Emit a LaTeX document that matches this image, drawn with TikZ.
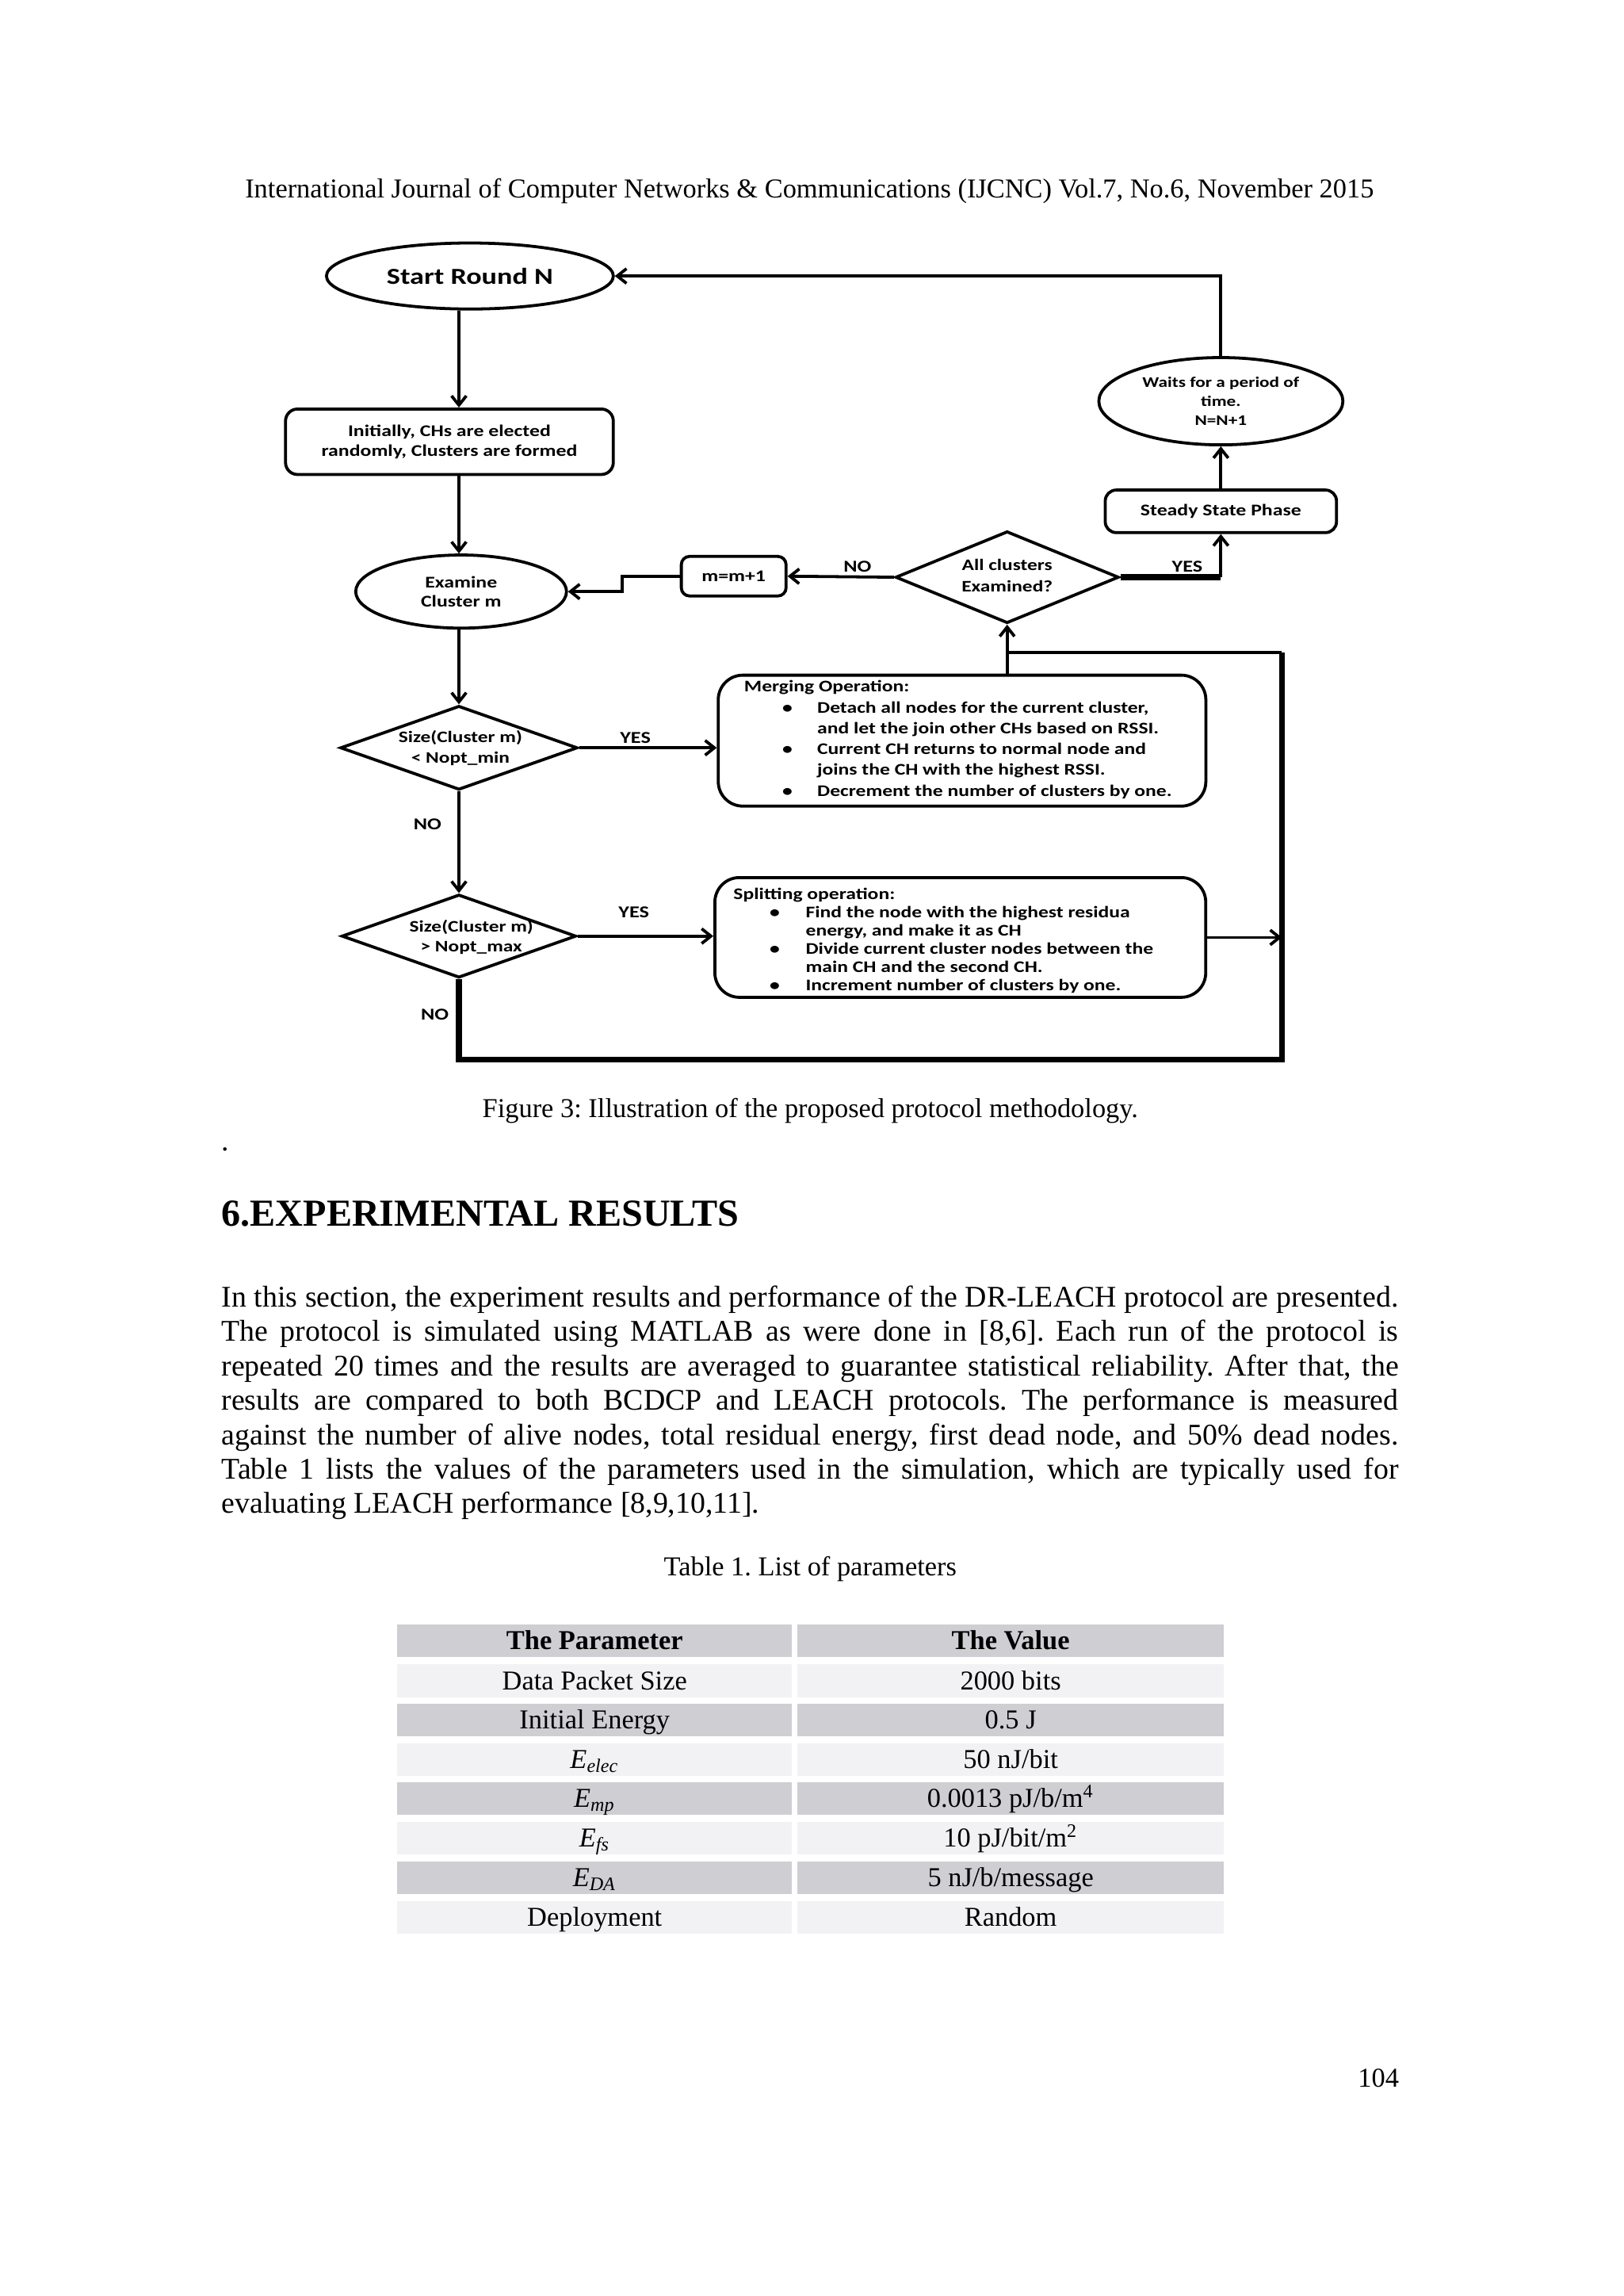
\documentclass[tikz,border=0pt]{standalone}
\usepackage{fontspec}
\setmainfont{Liberation Serif}
\newfontfamily\fc{Carlito}[FakeStretch=1.25]
\usetikzlibrary{arrows.meta,shapes.geometric}
\definecolor{tabD}{RGB}{207,206,211}
\definecolor{tabL}{RGB}{242,242,244}
\frenchspacing
\begin{document}
\begin{tikzpicture}[x=0.5368pt,y=-0.5368pt,
  ln/.style={line width=1.1pt},
  thk/.style={line width=2.1pt},
  arr/.style={-{Straight Barb[length=3.4pt,width=5.4pt]}},
  fbox/.style={draw, line width=1.1pt, inner sep=0pt, align=center,
    font=\fc\bfseries\fontsize{6}{7.25}\selectfont},
  fell/.style={ellipse, draw, line width=1.1pt, inner sep=0pt, align=center},
  dia/.style={diamond, draw, line width=1.1pt, inner sep=0pt},
  ftxt/.style={inner sep=0pt, align=center, font=\fc\bfseries\fontsize{5.9}{7.5}\selectfont},
  lab/.style={inner sep=0pt, font=\fc\bfseries\fontsize{6.1}{7}\selectfont},
  listtxt/.style={anchor=base west, inner sep=0pt},
  body/.style={inner sep=0pt, font=\fontsize{11}{12.6}\selectfont},
  small/.style={inner sep=0pt, font=\fontsize{10}{12}\selectfont},
  cellL/.style={inner sep=0pt, minimum width=144.7pt, minimum height=12.0pt, text height=8.2pt, text depth=1.8pt, font=\fontsize{10}{12}\selectfont},
  cellR/.style={inner sep=0pt, minimum width=156.3pt, minimum height=12.0pt, text height=8.2pt, text depth=1.8pt, font=\fontsize{10}{12}\selectfont}
]
\fill[white] (0,0) rectangle (1109,1568);
\useasboundingbox (0,0) rectangle (1109,1568);

% ---------- header ----------
\node[small, anchor=base] (hdr) at (553,135) {International Journal of Computer Networks \& Communications (IJCNC) Vol.7, No.6, November 2015};

% ---------- flowchart nodes ----------
\coordinate (vx) at (313.5,0);
\node[fell, minimum width=105.2pt, minimum height=24.2pt, font=\fc\bfseries\fontsize{8.4}{10}\selectfont] (start) at (321,188.5) {Start Round N};
\node[fbox, rounded corners=4.4pt, minimum width=120.2pt, minimum height=24pt] (init) at (307,301.7) {Initially, CHs are elected\\randomly, Clusters are formed};
\node[fell, minimum width=77.3pt, minimum height=26.8pt, font=\fc\bfseries\fontsize{6}{7.1}\selectfont] (exam) at (315,404) {Examine\\Cluster m};
\node[dia, minimum width=87pt, minimum height=30.8pt] (d1) at (313.5,510.7) {};
\node[ftxt] (d1t) at (314.5,511) {Size(Cluster m)\\< Nopt\_min};
\node[dia, minimum width=86pt, minimum height=30.5pt] (d2) at (313.5,639.3) {};
\node[ftxt] (d2t) at (322,640) {Size(Cluster m)\\> Nopt\_max};
\node[dia, minimum width=81.9pt, minimum height=33.7pt] (d3) at (688,394.2) {};
\node[ftxt, font=\fc\bfseries\fontsize{5.9}{8}\selectfont] (d3t) at (688,393) {All clusters\\Examined?};
\node[fbox, rounded corners=3pt, minimum width=38.4pt, minimum height=14.5pt] (m) at (501.2,393.5) {m=m+1};
\node[fbox, rounded corners=4pt, minimum width=84.8pt, minimum height=15.6pt] (steady) at (834,349.2) {Steady State Phase};
\node[fell, minimum width=89.5pt, minimum height=32pt, font=\fc\bfseries\fontsize{5.4}{6.9}\selectfont] (wait) at (834,274) {Waits for a period of\\time.\\N=N+1};
\node[fbox, rounded corners=9pt, minimum width=178.8pt, minimum height=48pt] (merge) at (657.2,505.8) {};
\node[fbox, rounded corners=9pt, minimum width=180pt, minimum height=43.9pt] (split) at (656,640.2) {};

\node[listtxt, font=\fc\bfseries\fontsize{5.95}{7.65}\selectfont] (mt) at (508,472.5) {\begin{tabular}[t]{@{}l@{}}
Merging Operation:\\
\hspace*{14pt}\makebox[12.8pt][l]{\textbullet}Detach all nodes for the current cluster,\\
\hspace*{26.8pt}and let the join other CHs based on RSSI.\\
\hspace*{14pt}\makebox[12.8pt][l]{\textbullet}Current CH returns to normal node and\\
\hspace*{26.8pt}joins the CH with the highest RSSI.\\
\hspace*{14pt}\makebox[12.8pt][l]{\textbullet}Decrement the number of clusters by one.
\end{tabular}};

\node[listtxt, font=\fc\bfseries\fontsize{5.95}{6.7}\selectfont] (st) at (500.7,614) {\begin{tabular}[t]{@{}l@{}}
Splitting operation:\\
\hspace*{13.3pt}\makebox[13.2pt][l]{\textbullet}Find the node with the highest residua\\
\hspace*{26.5pt}energy, and make it as CH\\
\hspace*{13.3pt}\makebox[13.2pt][l]{\textbullet}Divide current cluster nodes between the\\
\hspace*{26.5pt}main CH and the second CH.\\
\hspace*{13.3pt}\makebox[13.2pt][l]{\textbullet}Increment number of clusters by one.
\end{tabular}};

% labels
\node[lab] (yes1) at (434,504) {YES};
\node[lab] (no1) at (292,563) {NO};
\node[lab] (yes2) at (433,623) {YES};
\node[lab] (no2) at (297,692.6) {NO};
\node[lab] (no3) at (585.7,387) {NO};
\node[lab] (yes3) at (811,387) {YES};

% coordinates of the loop
\coordinate (jr) at (875.7,640.2);
\coordinate (jb) at (313.5,723.8);
\coordinate (jbr) at (875.7,723.8);
\coordinate (jt) at (875.7,445.5);
\coordinate (jm) at (688,445.5);
\coordinate (jy) at (834,394.2);
\coordinate (jw) at (834,188.5);
\coordinate (jx) at (425,0);

% ---------- connectors ----------
\draw[ln,arr] (start.south -| vx) -- (init.north -| vx);
\draw[ln,arr] (init.south -| vx) -- (exam.north -| vx);
\draw[ln,arr] (exam.south -| vx) -- (d1.north);
\draw[ln,arr] (d1.east) -- (d1.east -| merge.west);
\draw[ln,arr] (d1.south) -- (d2.north);
\draw[ln,arr] (d2.east) -- (d2.east -| split.west);
\draw[ln,arr] (split.east) -- (jr);
\draw[thk,line join=miter] (d2.south) -- (jb) -- (jbr) -- (jt);
\draw[ln] (jt) -- (jm);
\draw[ln] (jm |- merge.north) -- (jm);
\draw[ln,arr] (jm) -- (d3.south);
\draw[ln,arr] (d3.west) -- (m.east);
\draw[ln,arr] (m.west) -- (m.west -| jx) |- (exam.east);
\draw[thk] (d3.east) -- (jy);
\draw[ln,arr] (jy) -- (steady.south);
\draw[ln,arr] (steady.north) -- (wait.south);
\draw[ln,arr] (wait.north) -- (jw) -- (start.east);

% ---------- caption and text ----------
\node[small, anchor=base] (cap) at (553.5,763) {Figure 3: Illustration of the proposed protocol methodology.};
\node[body, anchor=base west] (dot) at (151,786) {.};
\node[inner sep=0pt, anchor=base west, font=\bfseries\fontsize{14}{16}\selectfont] (sec) at (151,837.5) {6.EXPERIMENTAL RESULTS};

\node[body, anchor=base west] (p1) at (151,892.5) {\makebox[431.6pt][s]{In this section, the experiment results and performance of the DR-LEACH protocol are presented.}};
\node[body, anchor=base west] (p2) at (151,916) {\makebox[431.6pt][s]{The protocol is simulated using MATLAB as were done in [8,6]. Each run of the protocol is}};
\node[body, anchor=base west] (p3) at (151,939.5) {\makebox[431.6pt][s]{repeated 20 times and the results are averaged to guarantee statistical reliability. After that, the}};
\node[body, anchor=base west] (p4) at (151,963) {\makebox[431.6pt][s]{results are compared to both BCDCP and LEACH protocols. The performance is measured}};
\node[body, anchor=base west] (p5) at (151,986.5) {\makebox[431.6pt][s]{against the number of alive nodes, total residual energy, first dead node, and 50\% dead nodes.}};
\node[body, anchor=base west] (p6) at (151,1010) {\makebox[431.6pt][s]{Table 1 lists the values of the parameters used in the simulation, which are typically used for}};
\node[body, anchor=base west] (p7) at (151,1033.5) {evaluating LEACH performance [8,9,10,11].};

\node[small, anchor=base] (tcap) at (553.5,1076) {Table 1. List of parameters};

% ---------- table ----------
\node[cellL, fill=tabD, font=\bfseries\fontsize{10}{12}\selectfont] (c0a) at (406.2,1120.6) {The Parameter};
\node[cellR, fill=tabD, font=\bfseries\fontsize{10}{12}\selectfont] (c0b) at (690.4,1120.6) {The Value};
\node[cellL, fill=tabL] (c1a) at (406.2,1147.9) {Data Packet Size};
\node[cellR, fill=tabL] (c1b) at (690.4,1147.9) {2000 bits};
\node[cellL, fill=tabD] (c2a) at (406.2,1174.6) {Initial Energy};
\node[cellR, fill=tabD] (c2b) at (690.4,1174.6) {0.5 J};
\node[cellL, fill=tabL] (c3a) at (406.2,1201.6) {\textit{E}\textsubscript{\textit{elec}}};
\node[cellR, fill=tabL] (c3b) at (690.4,1201.6) {50 nJ/bit};
\node[cellL, fill=tabD] (c4a) at (406.2,1228.3) {\textit{E}\textsubscript{\textit{mp}}};
\node[cellR, fill=tabD] (c4b) at (690.4,1228.3) {0.0013 pJ/b/m\textsuperscript{4}};
\node[cellL, fill=tabL] (c5a) at (406.2,1255.3) {\textit{E}\textsubscript{\textit{fs}}};
\node[cellR, fill=tabL] (c5b) at (690.4,1255.3) {10 pJ/bit/m\textsuperscript{2}};
\node[cellL, fill=tabD] (c6a) at (406.2,1282.5) {\textit{E}\textsubscript{\textit{DA}}};
\node[cellR, fill=tabD] (c6b) at (690.4,1282.5) {5 nJ/b/message};
\node[cellL, fill=tabL] (c7a) at (406.2,1309.5) {Deployment};
\node[cellR, fill=tabL] (c7b) at (690.4,1309.5) {Random};

% ---------- page number ----------
\node[small, anchor=base east] (pg) at (956,1425.5) {104};
\end{tikzpicture}
\end{document}
